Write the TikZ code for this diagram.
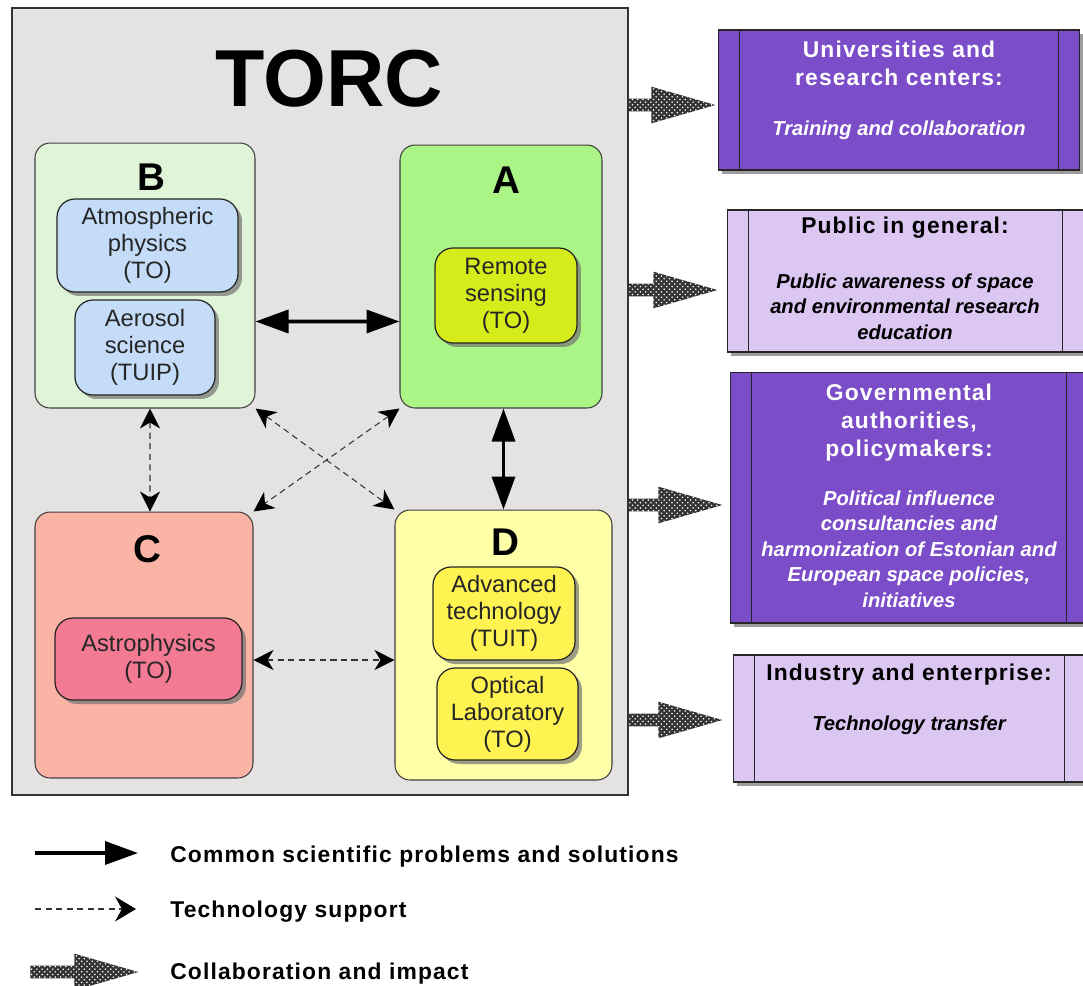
\documentclass[tikz,border=0pt]{standalone}
\usepackage{fontspec}
\setmainfont{Liberation Sans}
\newfontfamily\widefont[LetterSpace=5]{Liberation Sans}
\usetikzlibrary{arrows.meta,shapes.arrows,shadows,patterns}

\definecolor{torcgray}{HTML}{E4E3E1}
\definecolor{grpB}{HTML}{E0F4D8}
\definecolor{grpA}{HTML}{AAF586}
\definecolor{grpC}{HTML}{F9B4A5}
\definecolor{grpD}{HTML}{FFFFA8}
\definecolor{unitblue}{HTML}{C4DCF8}
\definecolor{unitlime}{HTML}{D6EC1A}
\definecolor{unitpink}{HTML}{F27A92}
\definecolor{unityellow}{HTML}{FFF352}
\definecolor{deeppurple}{HTML}{7C4DC8}
\definecolor{palepurple}{HTML}{DCC7F3}

\tikzset{
  group/.style={draw=black!75, line width=0.6pt, rounded corners=0.3cm, inner sep=0pt},
  unit/.style={draw=black!85, line width=0.7pt, rounded corners=0.36cm, align=center,
    inner sep=0pt, text=black!85, font=\fontsize{13.5pt}{15.3pt}\selectfont,
    drop shadow={shadow xshift=0.08cm, shadow yshift=-0.08cm, fill=black!55, opacity=0.7}},
  letter/.style={anchor=base, font=\fontsize{22pt}{24pt}\selectfont\bfseries},
  target/.style={draw=black!85, line width=0.6pt, inner sep=0pt,
    drop shadow={shadow xshift=0.08cm, shadow yshift=-0.08cm, fill=black!55, opacity=0.7}},
  ttl/.style={anchor=north, align=center, inner sep=0pt,
    font=\widefont\fontsize{13pt}{15.9pt}\selectfont\bfseries},
  body/.style={anchor=north, align=center, inner sep=0pt,
    font=\fontsize{11.5pt}{14.5pt}\selectfont\bfseries\itshape},
  legend/.style={anchor=base west, inner sep=0pt,
    font=\widefont\fontsize{13pt}{15pt}\selectfont\bfseries},
  common/.style={line width=2pt, draw=black},
  support/.style={line width=0.6pt, draw=black!80, dash pattern=on 3.5pt off 2.5pt},
  bigtip/.tip={Triangle[length=0.66cm,width=0.46cm]},
  smalltip/.tip={Stealth[length=0.4cm,width=0.4cm,inset=0.12cm,color=black]},
  keytip/.tip={Stealth[length=0.42cm,width=0.5cm,inset=0.14cm,color=black]},
  collab/.style={single arrow, anchor=tail, inner xsep=0pt, inner ysep=0.12cm,
    single arrow head extend=0.24cm, single arrow tip angle=32,
    preaction={fill=black!80}, pattern=crosshatch dots, pattern color=white}
}

\begin{document}
\begin{tikzpicture}[x=0.02cm, y=-0.02cm]
	\useasboundingbox (0,0) rectangle (1083,985);
	\clip (0,0) rectangle (1083,985);

	\node[draw=black!80, line width=0.8pt, fill=torcgray, minimum width=12.32cm, minimum height=15.74cm] (torc) at (320,401.5) {};
	\node[anchor=base, font=\fontsize{46pt}{50pt}\selectfont\bfseries] (title) at (329,106) {TORC};

	\node[group, fill=grpB, minimum width=4.4cm,  minimum height=5.3cm]  (B) at (145,275.5) {};
	\node[group, fill=grpA, minimum width=4.04cm, minimum height=5.26cm] (A) at (501,276.5) {};
	\node[group, fill=grpC, minimum width=4.36cm, minimum height=5.32cm] (C) at (144,645) {};
	\node[group, fill=grpD, minimum width=4.34cm, minimum height=5.4cm]  (D) at (503.5,645) {};

	\node[letter] (labB) at (151,190) {B};
	\node[letter] (labA) at (506,193) {A};
	\node[letter] (labC) at (147,562) {C};
	\node[letter] (labD) at (505,555) {D};

	\node[unit, fill=unitblue,   minimum width=3.62cm, minimum height=1.86cm] (atm)   at (147.5,245.5) {Atmospheric\\physics\\(TO)};
	\node[unit, fill=unitblue,   minimum width=2.8cm,  minimum height=1.9cm]  (aer)   at (145,347.5)   {Aerosol\\science\\(TUIP)};
	\node[unit, fill=unitlime,   minimum width=2.84cm, minimum height=1.9cm]  (rem)   at (506,295.5)   {Remote\\sensing\\(TO)};
	\node[unit, fill=unitpink,   minimum width=3.74cm, minimum height=1.64cm] (astro) at (148.5,659)   {Astrophysics\\(TO)};
	\node[unit, fill=unityellow, minimum width=2.84cm, minimum height=1.86cm] (adv)   at (504,613.5)   {Advanced\\technology\\(TUIT)};
	\node[unit, fill=unityellow, minimum width=2.82cm, minimum height=1.84cm] (opt)   at (507.5,714)   {Optical\\Laboratory\\(TO)};

	\path ([yshift=-0.92cm]B.east) edge[common, bigtip-bigtip] ([yshift=-0.9cm]A.west);
	\path (A.south -| D.north) edge[common, bigtip-bigtip] (D.north);
	\path ([xshift=0.1cm]B.south) edge[support, smalltip-smalltip] ([xshift=0.12cm]C.north);
	\path ([yshift=-0.3cm]C.east) edge[support, smalltip-smalltip] ([yshift=-0.3cm]D.west);
	\path (B.south east) edge[support, smalltip-smalltip] (D.north west);
	\path (A.south west) edge[support, smalltip-smalltip] (C.north east);

	\node[target, fill=deeppurple, minimum width=7.24cm, minimum height=2.8cm]  (uni) at (899,100) {};
	\node[target, fill=palepurple, minimum width=7.14cm, minimum height=2.84cm] (pub) at (905.5,281) {};
	\node[target, fill=deeppurple, minimum width=7.16cm, minimum height=5.02cm] (gov) at (909,497.5) {};
	\node[target, fill=palepurple, minimum width=7.06cm, minimum height=2.54cm] (ind) at (909.5,718.5) {};
	\foreach \b in {uni,pub,gov,ind} {
		\draw[black!85, line width=0.6pt] ([xshift=0.44cm]\b.north west) -- ([xshift=0.44cm]\b.south west);
		\draw[black!85, line width=0.6pt] ([xshift=-0.44cm]\b.north east) -- ([xshift=-0.44cm]\b.south east);
	}

	\node[ttl, text=white]  (uniT) at (899,40.5)  {Universities and\\research centers:};
	\node[body, text=white] (uniB) at (899,120.4) {Training and collaboration};
	\node[ttl]  (pubT) at (905,216.5) {Public in general:};
	\node[body] (pubB) at (905,273.4) {Public awareness of space\\and environmental research\\education};
	\node[ttl, text=white]  (govT) at (909,383.5) {Governmental\\authorities,\\policymakers:};
	\node[body, text=white] (govB) at (909,490.4) {Political influence\\consultancies and\\harmonization of Estonian and\\European space policies,\\initiatives};
	\node[ttl]  (indT) at (909,663.5) {Industry and enterprise:};
	\node[body] (indB) at (909,715.4) {Technology transfer};

	\node[collab, minimum height=1.74cm] (c1) at (628,105) {};
	\node[collab, minimum height=1.78cm] (c2) at (628,290) {};
	\node[collab, minimum height=1.88cm] (c3) at (628,505) {};
	\node[collab, minimum height=1.88cm] (c4) at (628,720) {};

	\coordinate (k1a) at (35,853);
	\coordinate (k1b) at (138,853);
	\coordinate (k2a) at (35,909);
	\coordinate (k2b) at (136,909);
	\path (k1a) edge[common, -bigtip] (k1b);
	\path (k2a) edge[support, -keytip] (k2b);
	\node[collab, minimum height=2.16cm] (k3) at (30,972) {};
	\node[legend] (k1) at (170,862) {Common scientific problems and solutions};
	\node[legend] (k2) at (170,917) {Technology support};
	\node[legend] (k3t) at (170,979) {Collaboration and impact};
\end{tikzpicture}
\end{document}
